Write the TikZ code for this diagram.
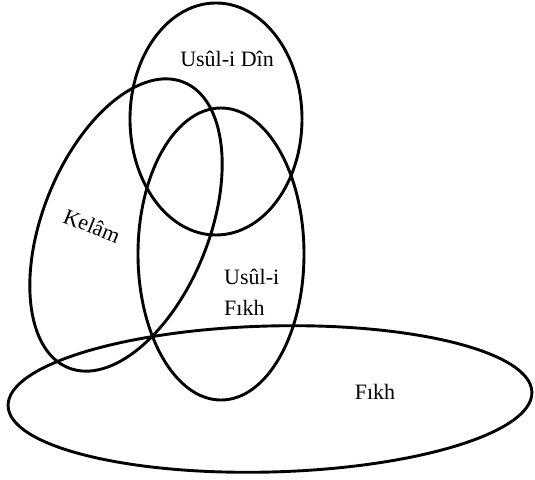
\documentclass[tikz,border=0pt]{standalone}
\usepackage{fontspec}
\setmainfont{Liberation Serif}
\usetikzlibrary{shapes.geometric,positioning}
\tikzset{
  set/.style={ellipse,draw=black,line width=2.9pt,inner sep=0pt,outer sep=0pt},
  lab/.style={font=\fontsize{22}{31}\selectfont,inner sep=0pt}
}

\begin{document}
\begin{tikzpicture}[x=1pt,y=1pt]
  \useasboundingbox (0,0) rectangle (535,479);
  % sets
  \node[set,minimum width=172pt,minimum height=232pt] (din) at (216,360) {};
  \node[set,minimum width=308pt,minimum height=166pt,rotate=68] (kelam) at (126,254) {};
  \node[set,minimum width=166pt,minimum height=292pt] (usul) at (221,225) {};
  \node[set,minimum width=524pt,minimum height=146pt,rotate=1.5] (fikh) at (270,80) {};

  % labels
  \node[lab] (dinlab) at (227,420) {Usûl-i Dîn};
  \node[lab,rotate=-22] (kelamlab) at (92,253) {Kelâm};
  \node[lab,anchor=west,align=left] (usullab) at (224,187) {Usûl-i\\Fıkh};
  \node[lab] (fikhlab) at (375,87) {Fıkh};
\end{tikzpicture}
\end{document}
